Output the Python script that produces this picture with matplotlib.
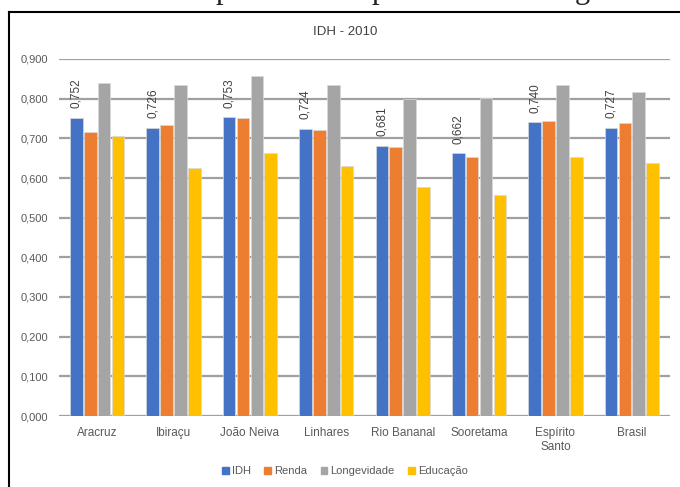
import matplotlib
matplotlib.use("Agg")
import matplotlib.pyplot as plt
import numpy as np
from matplotlib.lines import Line2D

plt.rcParams['font.family'] = ['Liberation Sans', 'DejaVu Sans']

# Municípios e referências
categories = ["Aracruz", "Ibiraçu", "João Neiva", "Linhares", "Rio Bananal",
              "Sooretama", "Espírito\nSanto", "Brasil"]
idh = [0.752, 0.726, 0.753, 0.724, 0.681, 0.662, 0.740, 0.727]
renda = [0.716, 0.734, 0.752, 0.722, 0.679, 0.652, 0.743, 0.739]
longevidade = [0.840, 0.835, 0.858, 0.834, 0.800, 0.801, 0.835, 0.816]
educacao = [0.706, 0.625, 0.663, 0.630, 0.577, 0.557, 0.652, 0.637]
series_names = ["IDH", "Renda", "Longevidade", "Educação"]
yticks = [0.0, 0.1, 0.2, 0.3, 0.4, 0.5, 0.6, 0.7, 0.8, 0.9]

colors = ["#4472C4", "#ED7D31", "#A5A5A5", "#FFC000"]
text_gray = "#595959"

W, H = 680, 487
fig = plt.figure(figsize=(W / 100, H / 100), dpi=100)
fig.patch.set_facecolor("white")

ax = fig.add_axes([59 / W, 1 - 416 / H, (670 - 59) / W, (416 - 59) / H])
x = np.arange(len(categories))
bw = 0.165
step = 0.182
offsets = (np.arange(4) - 1.5) * step

bars_idh = None
for i, (vals, col, name) in enumerate(zip([idh, renda, longevidade, educacao],
                                          colors, series_names)):
    b = ax.bar(x + offsets[i], vals, width=bw, color=col, edgecolor="#d9d9d9",
               linewidth=0.5, label=name, zorder=3)
    if i == 0:
        bars_idh = b

# Rótulos de dados da série IDH
for rect, v in zip(bars_idh, idh):
    ax.annotate(f"{v:.3f}".replace(".", ","),
                xy=(rect.get_x() + rect.get_width() / 2, v),
                xytext=(0, 7), textcoords="offset points",
                rotation=90, ha="center", va="bottom",
                fontsize=8.5, color="#404040")

ax.set_xlim(-0.5, len(categories) - 0.5)
ax.set_ylim(0, 0.9)
ax.set_yticks(yticks)
ax.set_yticklabels([f"{t:.3f}".replace(".", ",") for t in yticks],
                   fontsize=8, color=text_gray)
ax.set_xticks(x)
ax.set_xticklabels(categories, fontsize=8.5, color=text_gray)
ax.tick_params(axis="both", length=0)
ax.tick_params(axis="y", pad=8)
ax.tick_params(axis="x", pad=8)
ax.yaxis.grid(True, color="#A0A0A0", linewidth=1.6, zorder=0)
ax.set_axisbelow(True)
for s in ax.spines.values():
    s.set_visible(False)

fig.text(345 / W, 1 - 32 / H, "IDH - 2010", ha="center", va="center",
         fontsize=9.5, color="#404040")

handles = [plt.Rectangle((0, 0), 1, 1, color=c) for c in colors]
fig.legend(handles, series_names, loc="center", bbox_to_anchor=(345 / W, 1 - 471 / H),
           ncol=4, frameon=False, fontsize=8, handlelength=0.6, handleheight=0.6,
           handletextpad=0.3, columnspacing=1.2, labelcolor=text_gray)

# Moldura do gráfico
fig.add_artist(Line2D([9 / W, 9 / W], [0, 1 - 12 / H], color="black",
                      linewidth=1.5, transform=fig.transFigure))
fig.add_artist(Line2D([9 / W, 1], [1 - 12 / H, 1 - 12 / H], color="black",
                      linewidth=1.5, transform=fig.transFigure))

# Linha de texto anterior, cortada no topo
for px, ch in [(223, "p"), (379, "p"), (582, "g")]:
    fig.text(px / W, 1 + 1.5 / H, ch, ha="center", va="baseline",
             fontsize=22, family="Liberation Serif", color="#222222")

fig.savefig("out.png", dpi=100)
